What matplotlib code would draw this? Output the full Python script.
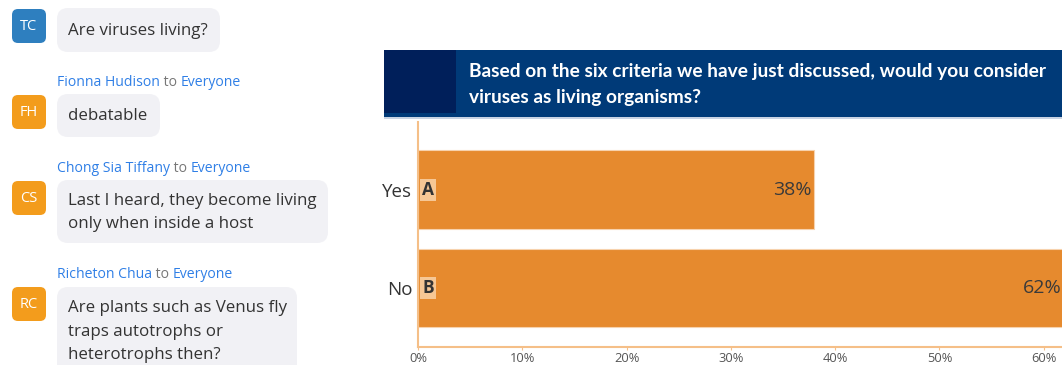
import matplotlib.pyplot as plt
from matplotlib.patches import FancyBboxPatch, Rectangle

# poll data
options = ["Yes", "No"]
letters = ["A", "B"]
shares = [38, 62]
x_ticks = [0, 10, 20, 30, 40, 50, 60]
question = ("Based on the six criteria we have just discussed, would you consider\n"
            "viruses as living organisms?")

# chat messages: initials, avatar colour, sender, message lines
chat_initials = ["TC", "FH", "CS", "RC"]
chat_colors = ["#2e7fbf", "#f39c1c", "#f39c1c", "#f39c1c"]
chat_senders = [None, "Fionna Hudison", "Chong Sia Tiffany", "Richeton Chua"]
chat_texts = [
    ["Are viruses living?"],
    ["debatable"],
    ["Last I heard, they become living", "only when inside a host"],
    ["Are plants such as Venus fly", "traps autotrophs or", "heterotrophs then?"],
]

W, H = 1062, 365
fig = plt.figure(figsize=(W / 100, H / 100), dpi=100)
fig.patch.set_facecolor("white")

# overlay in pixel coordinates for the chat panel and banner
bg = fig.add_axes([0, 0, 1, 1])
bg.set_xlim(0, W)
bg.set_ylim(H, 0)
bg.axis("off")

chat_font = "Open Sans"
avatar_top = [9, 95, 181, 287]
bubble_box = [(57, 8, 163, 44), (57, 94, 103, 43), (57, 180, 271, 63), (57, 287, 240, 90)]
sender_y = [None, 82, 168, 275]
line_gap = 23.5

for i in range(len(chat_initials)):
    ay = avatar_top[i]
    bg.add_patch(FancyBboxPatch((12, ay), 34, 34, boxstyle="round,pad=0,rounding_size=6",
                                fc=chat_colors[i], ec="none"))
    bg.text(29, ay + 17.5, chat_initials[i], color="white", fontsize=10.5, family=chat_font,
            ha="center", va="center")
    bx, by, bw, bh = bubble_box[i]
    bg.add_patch(FancyBboxPatch((bx, by), bw, bh, boxstyle="round,pad=0,rounding_size=11",
                                fc="#f1f1f5", ec="none"))
    n = len(chat_texts[i])
    first = by + bh / 2 - (n - 1) * line_gap / 2 + 1 if i < 3 else 308
    for k, line in enumerate(chat_texts[i]):
        bg.text(68, first + k * line_gap, line, color="#333333", fontsize=12.2,
                family=chat_font, ha="left", va="center")
    if chat_senders[i]:
        t = bg.text(57, sender_y[i], chat_senders[i], color="#2f7fe6", fontsize=10.1,
                    family=chat_font, ha="left", va="center")
        t2 = bg.annotate(" to ", xycoords=t, xy=(1, 0.5), va="center", ha="left",
                         color="#777777", fontsize=10.1, family=chat_font)
        bg.annotate("Everyone", xycoords=t2, xy=(1, 0.5), va="center", ha="left",
                    color="#2f7fe6", fontsize=10.1, family=chat_font)

# question banner
bg.add_patch(Rectangle((384, 50), W - 384, 68, fc="#003a78", ec="none"))
bg.add_patch(Rectangle((384, 50), 72, 63, fc="#001f5a", ec="none"))
bg.add_patch(Rectangle((384, 117), W - 384, 1.5, fc="#c9d3e3", ec="none"))
bg.text(469, 84.5, question, color="white", fontsize=13.8, fontweight="bold",
        family="Lato", ha="left", va="center", linespacing=1.6)

# bar chart
ax = fig.add_axes([418 / W, 1 - 347 / H, (W - 418) / W, (347 - 122) / H])
ax.set_xlim(0, 61.75)
pos = list(range(len(options)))
ax.barh(pos, shares, height=0.8, color="#e68a2e", edgecolor="#f7d2ad", linewidth=0.8)
ax.set_ylim(1.6, -0.69)
ax.set_yticks(pos)
ax.set_yticklabels(options, fontsize=13.5, color="#333333", family="Open Sans")
ax.tick_params(axis="y", length=0, pad=4)
ax.set_xticks(x_ticks)
ax.set_xticklabels([f"{v}%" for v in x_ticks], fontsize=9.3, color="#555555", family="Open Sans")
ax.tick_params(axis="x", length=2, color="#f5bf88", pad=1.5)
for s in ["top", "right"]:
    ax.spines[s].set_visible(False)
for s in ["left", "bottom"]:
    ax.spines[s].set_color("#f5bf88")
    ax.spines[s].set_linewidth(1.5)

for p, v, letter in zip(pos, shares, letters):
    ax.text(0.4, p, letter, fontsize=12.5, fontweight="bold", color="#333333",
            family="Open Sans", ha="left", va="center",
            bbox=dict(boxstyle="square,pad=0.1", fc="#f6c795", ec="none"))
    ax.text(v - 0.3, p, f"{v}%", fontsize=14, color="#3a3a3a", family="Open Sans",
            ha="right", va="center", clip_on=False)

fig.savefig("out.png", dpi=100)
